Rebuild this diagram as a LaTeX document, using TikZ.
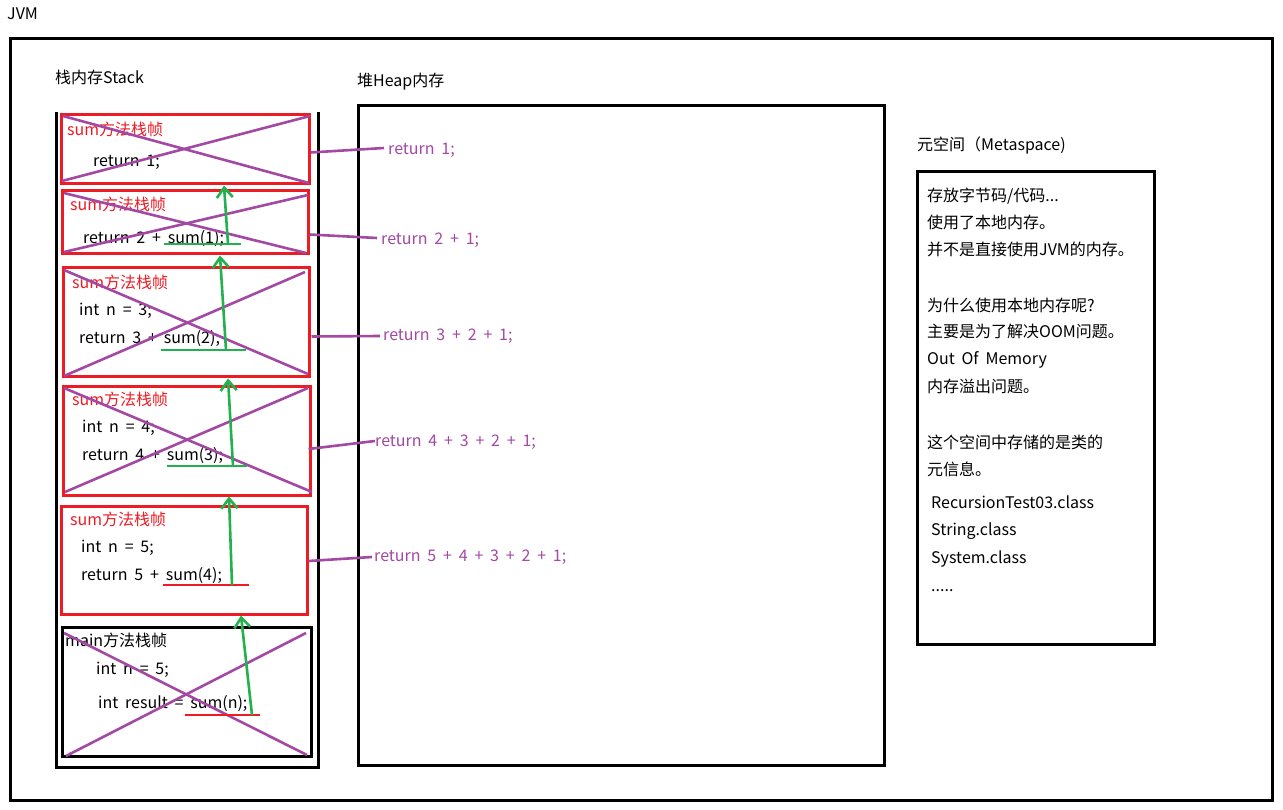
\documentclass[tikz,border=0pt]{standalone}
\usepackage{fontspec}
\setmainfont[WordSpace=1.9]{Noto Sans CJK SC}
\usetikzlibrary{arrows.meta,calc}
\definecolor{cred}{RGB}{237,28,36}
\definecolor{cpur}{RGB}{163,73,164}
\definecolor{cgrn}{RGB}{34,177,76}
\newcommand\myfs{\fontsize{16}{19}\selectfont}
\begin{document}
\begin{tikzpicture}[x=1pt,y=-1pt,
  txt/.style={anchor=west, inner sep=0pt, text height=14pt, text depth=2pt, font=\myfs},
  blk/.style={draw=black, line width=3pt},
  redframe/.style={draw=cred, line width=3pt, inner sep=0pt},
  blkframe/.style={draw=black, line width=3pt, inner sep=0pt},
  cross/.style={draw=cpur, line width=2.6pt},
  link/.style={draw=cpur, line width=2.6pt},
  up/.style={draw=cgrn, line width=2.6pt, -{Straight Barb[length=10pt,width=16pt]}},
  gline/.style={draw=cgrn, line width=2.6pt},
  rline/.style={draw=cred, line width=2.6pt},
]
\useasboundingbox (0,0) rectangle (1283,810);
\fill[white] (0,0) rectangle (1283,810);

% titles
\node[txt] (jvm) at (7,14) {JVM};
\draw[blk] (10,39) rectangle (1272,800);
\node[txt] (stk) at (55,78) {栈内存Stack};
\node[txt] (hp) at (357,81) {堆Heap内存};
\node[txt] (ms) at (917,145) {元空间（Metaspace)};

% stack container (open top)
\draw[blk] (56,112) -- (56,767) -- (318,767) -- (318,112);
% heap and metaspace
\node[blkframe, minimum width=526pt, minimum height=659pt] (heap) at (621,435.5) {};
\node[blkframe, minimum width=237pt, minimum height=472pt] (meta) at (1035.5,408) {};

% frames
\node[redframe, minimum width=248pt, minimum height=69pt] (f1) at (185,149.5) {};
\node[redframe, minimum width=246pt, minimum height=63pt] (f2) at (185,222.5) {};
\node[redframe, minimum width=246pt, minimum height=109pt] (f3) at (186,322.5) {};
\node[redframe, minimum width=247pt, minimum height=108pt] (f4) at (186.5,441) {};
\node[redframe, minimum width=246pt, minimum height=108pt] (f5) at (184,560) {};
\node[blkframe, minimum width=249pt, minimum height=129pt] (f6) at (186.5,691.5) {};

% frame texts
\node[txt, text=cred] (t1) at (67,130) {sum方法栈帧};
\node[txt] (c11) at (93,161) {return 1;};
\node[txt, text=cred] (t2) at (70,205) {sum方法栈帧};
\node[txt] (c21) at (83,238) {return 2 + sum(1);};
\node[txt, text=cred] (t3) at (72,283) {sum方法栈帧};
\node[txt] (c31) at (79,310) {int n = 3;};
\node[txt] (c32) at (79,338) {return 3 + sum(2);};
\node[txt, text=cred] (t4) at (72,400) {sum方法栈帧};
\node[txt] (c41) at (82,426) {int n = 4;};
\node[txt] (c42) at (82,454) {return 4 + sum(3);};
\node[txt, text=cred] (t5) at (70,519) {sum方法栈帧};
\node[txt] (c51) at (81,546) {int n = 5;};
\node[txt] (c52) at (81,574) {return 5 + sum(4);};
\node[txt] (t6) at (65,640) {main方法栈帧};
\node[txt] (c61) at (96,668) {int n = 5;};
\node[txt] (c62) at (98,702) {int result = sum(n);};

% crosses
\draw[cross] (63,116) -- (309,183);
\draw[cross] (62,181) -- (310,116);
\draw[cross] (64,193) -- (306,253);
\draw[cross] (64,252) -- (308,195);
\draw[cross] (64,270) -- (308,374);
\draw[cross] (64,376) -- (305,272);
\draw[cross] (64,388) -- (312,492);
\draw[cross] (65,492) -- (308,388);
\draw[cross] (64,633) -- (307,755);
\draw[cross] (66,756) -- (306,633);

% heap texts
\node[txt, text=cpur] (h1) at (388,149) {return 1;};
\node[txt, text=cpur] (h2) at (381,239) {return 2 + 1;};
\node[txt, text=cpur] (h3) at (383,335) {return 3 + 2 + 1;};
\node[txt, text=cpur] (h4) at (375,440) {return 4 + 3 + 2 + 1;};
\node[txt, text=cpur] (h5) at (374,555) {return 5 + 4 + 3 + 2 + 1;};

% links frame -> heap
\draw[link] ($(f1.east)+(0,3)$) -- ($(h1.west)+(-4,-1)$);
\draw[link] ($(f2.east)+(0,12)$) -- ($(h2.west)+(-4,-1)$);
\draw[link] ($(f3.east)+(1,14)$) -- ($(h3.west)+(-3,1)$);
\draw[link] ($(f4.east)+(-3,8)$) -- ($(h4.west)+(0,1)$);
\draw[link] ($(f5.east)+(0,1)$) -- ($(h5.west)+(-2,2)$);

% underlines
\coordinate (u2a) at (164,244); \coordinate (u2b) at (241,244);
\coordinate (u3a) at (161,350); \coordinate (u3b) at (246,350);
\coordinate (u4a) at (167,466); \coordinate (u4b) at (247,466);
\coordinate (u5a) at (163,585); \coordinate (u5b) at (249,585);
\coordinate (u6a) at (185,715); \coordinate (u6b) at (260,715);
\draw[gline] (u2a) -- (u2b);
\draw[gline] (u3a) -- (u3b);
\draw[gline] (u4a) -- (u4b);
\draw[rline] (u5a) -- (u5b);
\draw[rline] (u6a) -- (u6b);

% green arrows
\coordinate (s2) at (228,244); \coordinate (s3) at (226,350);
\coordinate (s4) at (233,466); \coordinate (s5) at (232,585);
\coordinate (s6) at (252,715);
\draw[up] (s2) -- (f1.south -| 224,0);
\draw[up] (s3) -- (f2.south -| 220,0);
\draw[up] (s4) -- (f3.south -| 228,0);
\draw[up] (s5) -- (f4.south -| 229,0);
\draw[up] (s6) -- (f5.south -| 241,0);

% metaspace text
\node[txt] (m1) at (927,196) {存放字节码/代码...};
\node[txt] (m2) at (927,223) {使用了本地内存。};
\node[txt] (m3) at (927,250) {并不是直接使用JVM的内存。};
\node[txt] (m4) at (927,306) {为什么使用本地内存呢?};
\node[txt] (m5) at (927,332) {主要是为了解决OOM问题。};
\node[txt] (m6) at (927,359) {Out Of Memory};
\node[txt] (m7) at (927,386) {内存溢出问题。};
\node[txt] (m8) at (927,442) {这个空间中存储的是类的};
\node[txt] (m9) at (927,469) {元信息。};
\node[txt] (m10) at (931,502) {RecursionTest03.class};
\node[txt] (m11) at (931,529) {String.class};
\node[txt] (m12) at (931,557) {System.class};
\node[txt] (m13) at (931,585) {.....};
\end{tikzpicture}
\end{document}
